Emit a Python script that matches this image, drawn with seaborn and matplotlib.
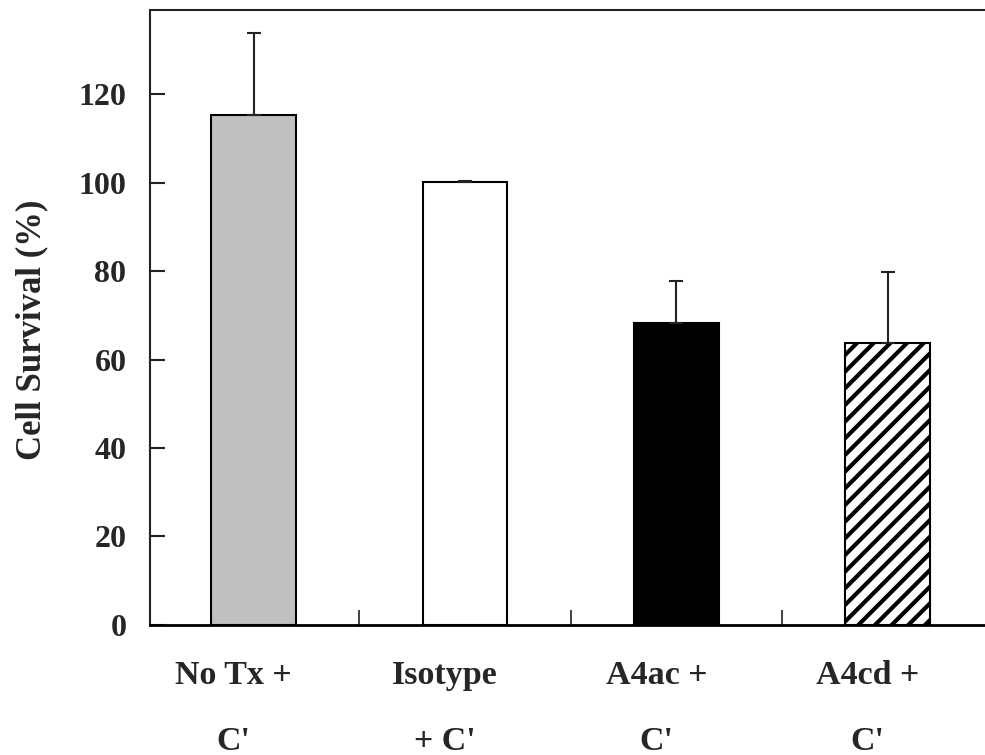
import matplotlib
matplotlib.use("Agg")
import matplotlib.pyplot as plt
import matplotlib.transforms as mtransforms
import seaborn as sns
import pandas as pd

# data
groups = ["No Tx +\nC'", "Isotype\n+ C'", "A4ac +\nC'", "A4cd +\nC'"]
survival = [115.2, 100.2, 68.2, 63.7]
err_upper = [18.7, 0.1, 9.5, 16.0]
bar_colors = ["#c0c0c0", "#ffffff", "#000000", "#ffffff"]
yticks = [0, 20, 40, 60, 80, 100, 120]

df = pd.DataFrame({"group": groups, "survival": survival})

sns.set_style("white")
plt.rcParams["font.family"] = ["Liberation Serif", "DejaVu Serif"]
plt.rcParams["font.weight"] = "bold"
plt.rcParams["hatch.linewidth"] = 3.0

fig = plt.figure(figsize=(9.85, 7.55), dpi=100)
ax = fig.add_axes([0.1523, 0.1722, 0.8477, 0.8146])

sns.barplot(data=df, x="group", y="survival", hue="group", palette=bar_colors,
            legend=False, width=0.40, edgecolor="black", linewidth=1.5,
            errorbar=None, ax=ax)
ax.patches[3].set_hatch("//")

# upper-only error bars
ax.errorbar(range(len(groups)), survival, yerr=[[0] * len(groups), err_upper],
            fmt="none", ecolor="#222222", elinewidth=1.5, capsize=5,
            capthick=1.5)

ax.set_ylim(0, 139)
ax.set_xlim(-0.49, 3.46)
ax.set_yticks(yticks)
ax.set_yticklabels([str(v) for v in yticks], fontsize=23, fontweight="bold")
ax.tick_params(axis="y", left=True, direction="in", length=11, width=1.5,
               pad=17, color="#222222")

# category labels at bar centres, tick marks between groups
ax.set_xticks(range(len(groups)))
ax.set_xticklabels(groups, fontsize=24.5, fontweight="bold", linespacing=2.45)
ax.tick_params(axis="x", which="major", bottom=True, length=0, pad=25)
ax.set_xticks([0.5, 1.5, 2.5], minor=True)
ax.tick_params(axis="x", which="minor", bottom=True, direction="in",
               length=11, width=1.2, color="#222222")
shift = mtransforms.ScaledTranslation(-20 / 100, 0, fig.dpi_scale_trans)
for lab in ax.get_xticklabels():
    lab.set_transform(lab.get_transform() + shift)

ax.set_xlabel("")
ax.set_ylabel("Cell Survival (%)", fontsize=25, fontweight="bold")
ax.yaxis.set_label_coords(-0.122, 0.48)

for side in ["left", "top"]:
    ax.spines[side].set_linewidth(1.5)
    ax.spines[side].set_color("#222222")
ax.spines["bottom"].set_linewidth(2)
ax.spines["bottom"].set_color("black")
ax.spines["right"].set_visible(False)

fig.savefig("out.png", dpi=100)
